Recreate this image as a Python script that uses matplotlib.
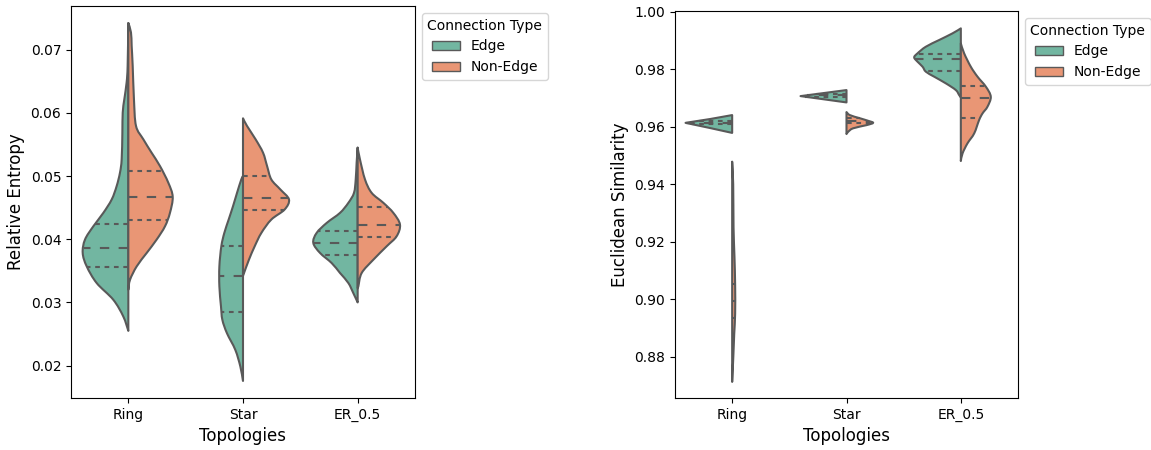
import colorsys
import numpy as np
import matplotlib
matplotlib.use("Agg")
import matplotlib.pyplot as plt
from matplotlib.colors import to_rgb
from matplotlib.patches import Patch, PathPatch
from matplotlib.path import Path

# ---------------- data ----------------
topologies = ["Ring", "Star", "ER_0.5"]
hue_levels = ["Edge", "Non-Edge"]

# Density profiles (value, half-width in category units) for each split half
# Left panel: Relative Entropy
re_ring_edge_y = [0.02550, 0.02778, 0.03042, 0.03307, 0.03571, 0.03783, 0.03995, 0.04206, 0.04418,
                  0.04630, 0.04841, 0.05053, 0.05265, 0.05688, 0.06005, 0.06217, 0.06481, 0.06746, 0.07423]
re_ring_edge_w = [0.0, 0.044, 0.131, 0.276, 0.363, 0.398, 0.378, 0.305, 0.218,
                  0.145, 0.102, 0.073, 0.058, 0.052, 0.049, 0.035, 0.015, 0.006, 0.0]
re_ring_non_y = [0.03201, 0.03360, 0.03571, 0.03783, 0.03995, 0.04206, 0.04418, 0.04672, 0.04894,
                 0.05159, 0.05370, 0.05582, 0.05794, 0.06217, 0.06746, 0.07063, 0.07275, 0.07423]
re_ring_non_w = [0.0, 0.015, 0.073, 0.160, 0.247, 0.320, 0.363, 0.387, 0.349,
                 0.276, 0.203, 0.131, 0.067, 0.049, 0.038, 0.029, 0.023, 0.0]
re_star_edge_y = [0.01757, 0.01984, 0.02249, 0.02513, 0.02725, 0.02937, 0.03254, 0.03571, 0.03889,
                  0.04100, 0.04312, 0.04524, 0.04735, 0.04947, 0.05000]
re_star_edge_w = [0.0, 0.023, 0.067, 0.140, 0.180, 0.192, 0.206, 0.206, 0.189,
                  0.163, 0.125, 0.087, 0.052, 0.015, 0.0]
re_star_non_y = [0.03423, 0.03466, 0.03677, 0.03889, 0.04100, 0.04312, 0.04471, 0.04630, 0.04788,
                 0.04947, 0.05159, 0.05370, 0.05582, 0.05794, 0.05915]
re_star_non_w = [0.0, 0.009, 0.052, 0.102, 0.160, 0.247, 0.363, 0.401, 0.326,
                 0.247, 0.210, 0.175, 0.110, 0.035, 0.0]
re_er_edge_y = [0.03000, 0.03148, 0.03307, 0.03466, 0.03624, 0.03783, 0.03942, 0.04100, 0.04259,
                0.04418, 0.04577, 0.04735, 0.04947, 0.05212, 0.05450]
re_er_edge_w = [0.0, 0.038, 0.081, 0.154, 0.227, 0.328, 0.387, 0.358, 0.270,
                0.154, 0.081, 0.032, 0.017, 0.009, 0.0]
re_er_non_y = [0.03228, 0.03254, 0.03466, 0.03677, 0.03889, 0.04048, 0.04233, 0.04418, 0.04577,
               0.04735, 0.04947, 0.05265, 0.05450]
re_er_non_w = [0.0, 0.006, 0.035, 0.137, 0.253, 0.340, 0.369, 0.311, 0.224,
               0.122, 0.064, 0.020, 0.0]

# Right panel: Euclidean Similarity
es_ring_edge_y = [0.9579, 0.95965, 0.9614, 0.96275, 0.9641]
es_ring_edge_w = [0.0, 0.200, 0.408, 0.190, 0.0]
es_ring_non_y = [0.8713, 0.8800, 0.8880, 0.8950, 0.9050, 0.9150, 0.9250, 0.9400, 0.9479]
es_ring_non_w = [0.0, 0.010, 0.018, 0.026, 0.026, 0.020, 0.012, 0.009, 0.0]
es_star_edge_y = [0.9685, 0.9707, 0.9728]
es_star_edge_w = [0.0, 0.402, 0.0]
es_star_non_y = [0.9575, 0.9583, 0.9595, 0.9606, 0.9614, 0.9621, 0.9630, 0.9641, 0.96515]
es_star_non_w = [0.0, 0.015, 0.058, 0.175, 0.233, 0.190, 0.117, 0.029, 0.0]
es_er_edge_y = [0.97026, 0.97107, 0.97281, 0.97513, 0.97745, 0.97919, 0.98093, 0.98267, 0.98417,
                0.98557, 0.98788, 0.99020, 0.99252, 0.99426]
es_er_edge_w = [0.0, 0.015, 0.044, 0.131, 0.233, 0.306, 0.335, 0.379, 0.408,
                0.379, 0.306, 0.190, 0.073, 0.0]
es_er_non_y = [0.94812, 0.95078, 0.95426, 0.95774, 0.96238, 0.96470, 0.96701, 0.97049, 0.97397,
               0.97745, 0.98093, 0.98557, 0.98904]
es_er_non_w = [0.0, 0.015, 0.058, 0.117, 0.160, 0.190, 0.233, 0.262, 0.219,
               0.146, 0.087, 0.029, 0.0]

# Quartiles (Q1, median, Q3) per topology, per hue
re_quart_edge = [(0.03566, 0.03868, 0.04238), (0.02852, 0.03423, 0.03889), (0.03746, 0.03942, 0.04127)]
re_quart_non = [(0.04302, 0.04672, 0.05074), (0.04460, 0.04651, 0.04995), (0.04042, 0.04233, 0.04503)]
es_quart_edge = [(0.9609, 0.9614, 0.9620), (0.9705, 0.9710, 0.9714), (0.9794, 0.9837, 0.9853)]
es_quart_non = [(0.8936, 0.8995, 0.9053), (0.9613, 0.9621, 0.9630), (0.9632, 0.9700, 0.9742)]

re_profiles = [
    ((re_ring_edge_y, re_ring_edge_w), (re_ring_non_y, re_ring_non_w)),
    ((re_star_edge_y, re_star_edge_w), (re_star_non_y, re_star_non_w)),
    ((re_er_edge_y, re_er_edge_w), (re_er_non_y, re_er_non_w)),
]
es_profiles = [
    ((es_ring_edge_y, es_ring_edge_w), (es_ring_non_y, es_ring_non_w)),
    ((es_star_edge_y, es_star_edge_w), (es_star_non_y, es_star_non_w)),
    ((es_er_edge_y, es_er_edge_w), (es_er_non_y, es_er_non_w)),
]

# ---------------- styling ----------------
def desaturate(c, p=0.75):
    h, l, s = colorsys.rgb_to_hls(*to_rgb(c))
    return colorsys.hls_to_rgb(h, l, s * p)

colors = [desaturate("#66c2a5"), desaturate("#fc8d62")]
lum = min(colorsys.rgb_to_hls(*c)[1] for c in colors) * 0.6
gray = (lum, lum, lum)
lw = 1.5

fig = plt.figure(figsize=(11.51, 4.5), dpi=100)
ax1 = fig.add_axes([71 / 1151, 52 / 450, 344 / 1151, 392 / 450])
ax2 = fig.add_axes([675 / 1151, 52 / 450, 343 / 1151, 387 / 450])


def half_violin_path(center, sign, ys, ws, sharp):
    """Closed path: centre line plus a smooth (Bezier) outline through the read points."""
    pts = [(center + sign * w, y) for y, w in zip(ys, ws)]
    verts = [pts[0]]
    codes = [Path.MOVETO]
    n = len(pts)
    for k in range(n - 1):
        p1 = np.array(pts[k])
        p2 = np.array(pts[k + 1])
        if sharp:
            verts.append(tuple(p2))
            codes.append(Path.LINETO)
            continue
        p0 = np.array(pts[k - 1]) if k > 0 else p1
        p3 = np.array(pts[k + 2]) if k + 2 < n else p2
        c1 = p1 + (p2 - p0) / 6.0
        c2 = p2 - (p3 - p1) / 6.0
        verts += [tuple(c1), tuple(c2), tuple(p2)]
        codes += [Path.CURVE4] * 3
    verts += [(center, ys[-1]), (center, ys[0]), (center, ys[0])]
    codes += [Path.LINETO, Path.LINETO, Path.CLOSEPOLY]
    return Path(verts, codes)


def draw_panel(ax, profiles, q_edge, q_non):
    for i, (edge, non) in enumerate(profiles):
        for j, ((ys, ws), quarts) in enumerate(zip((edge, non), (q_edge[i], q_non[i]))):
            sign = -1 if j == 0 else 1
            path = half_violin_path(i, sign, ys, ws, sharp=len(ys) <= 5)
            ax.add_patch(PathPatch(path, facecolor=colors[j], edgecolor=gray,
                                   linewidth=lw, joinstyle="round", zorder=1))
            for k, q in enumerate(quarts):
                w = np.interp(q, ys, ws)
                dash = [lw * 3] * 2 if k == 1 else [lw * 1.5] * 2
                ax.plot([i, i + sign * w], [q, q], color=gray, linewidth=lw,
                        linestyle="--", dashes=dash, zorder=2)
    ax.set_xticks(range(len(topologies)))
    ax.set_xticklabels(topologies)
    ax.set_xlim(-0.5, len(topologies) - 0.5)
    ax.set_xlabel("Topologies", fontsize=12)
    handles = [Patch(facecolor=colors[k], edgecolor=gray, linewidth=1.0, label=hue_levels[k])
               for k in range(2)]
    ax.legend(handles=handles, title="Connection Type", loc="upper left",
              bbox_to_anchor=(1.0, 1.0), fontsize=10, title_fontsize=10)


draw_panel(ax1, re_profiles, re_quart_edge, re_quart_non)
ax1.set_ylim(0.01487, 0.07693)
ax1.set_yticks([0.02, 0.03, 0.04, 0.05, 0.06, 0.07])
ax1.set_ylabel("Relative Entropy", fontsize=12)

draw_panel(ax2, es_profiles, es_quart_edge, es_quart_non)
ax2.set_ylim(0.8657, 1.0003)
ax2.set_yticks([0.88, 0.90, 0.92, 0.94, 0.96, 0.98, 1.00])
ax2.set_ylabel("Euclidean Similarity", fontsize=12)

fig.savefig("out.png", dpi=100)
